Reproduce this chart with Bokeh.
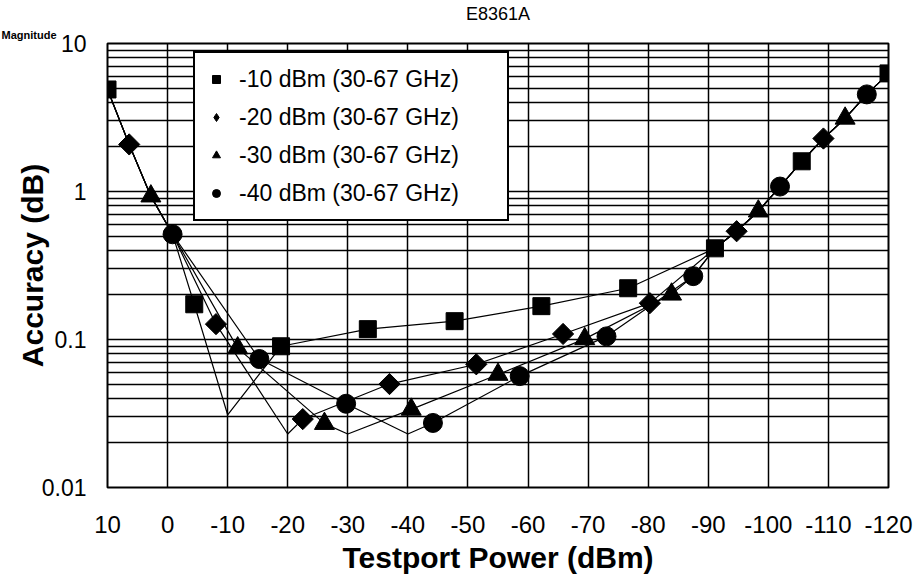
import math
from bokeh.plotting import figure
from bokeh.models import (Range1d, FixedTicker, NumeralTickFormatter, Legend,
                          LegendItem, Title)
from bokeh.embed import file_html
from bokeh.resources import INLINE

# ---------------- data ----------------
x_ticks = [10, 0, -10, -20, -30, -40, -50, -60, -70, -80, -90, -100, -110, -120]
x_tick_labels = [str(t) for t in x_ticks]
y_ticks = [0.01, 0.1, 1, 10]
y_tick_labels = ["0.01", "0.1", "1", "10"]

series_labels = ["-10 dBm (30-67 GHz)", "-20 dBm (30-67 GHz)",
                 "-30 dBm (30-67 GHz)", "-40 dBm (30-67 GHz)"]

# marker points
x_m10 = [10, -4.44, -18.89, -33.33, -47.78, -62.22, -76.67, -91.11, -105.56, -120]
y_m10 = [4.89, 0.173, 0.090, 0.1175, 0.133, 0.168, 0.222, 0.413, 1.60, 6.28]
x_m20 = [6.39, -8.06, -22.5, -36.94, -51.39, -65.83, -80.28, -94.72, -109.17]
y_m20 = [2.08, 0.127, 0.029, 0.050, 0.068, 0.109, 0.176, 0.539, 2.28]
x_m30 = [2.78, -11.67, -26.11, -40.56, -55.0, -69.44, -83.89, -98.33, -112.78]
y_m30 = [0.93, 0.0875, 0.027, 0.0337, 0.058, 0.101, 0.202, 0.736, 3.12]
x_m40 = [-0.83, -15.28, -29.72, -44.17, -58.61, -73.06, -87.5, -101.94, -116.39]
y_m40 = [0.514, 0.0738, 0.0368, 0.0273, 0.0566, 0.105, 0.268, 1.08, 4.53]

# minimum (dip) of each accuracy curve, at its reference power
dip_x = [-10, -20, -30, -40]
dip_y = [0.031, 0.023, 0.023, 0.023]
# where the curves merge at high and low power
head_end = -1.0
tail_start = [-91.0, -91.0, -87.0, -87.0]

marker_x = [x_m10, x_m20, x_m30, x_m40]
marker_y = [y_m10, y_m20, y_m30, y_m40]

# ---------------- figure ----------------
FONT = "Liberation Sans"
p = figure(width=914, height=584, output_backend="svg", toolbar_location=None,
           x_range=Range1d(10, -120), y_range=Range1d(0.01, 10),
           y_axis_type="log",
           min_border_left=107, min_border_right=26, min_border_top=42,
           min_border_bottom=97, background_fill_color="white",
           border_fill_color="white")

p.title.text = "E8361A"
p.title.align = "center"
p.title.text_font = FONT
p.title.text_font_size = "18px"
p.title.text_font_style = "normal"
p.title.text_color = "black"
p.title.standoff = 2

# heading at the top left
p.add_layout(Title(text="Magnitude", align="left", offset=-106, standoff=5,
                   text_font=FONT, text_font_size="11px",
                   text_font_style="bold", text_color="black"), "above")

p.outline_line_color = "black"
p.outline_line_width = 2
p.outline_line_alpha = 1

# grids
p.xgrid.ticker = FixedTicker(ticks=x_ticks)
p.xgrid.grid_line_color = "black"
p.xgrid.grid_line_width = 1.5
p.xgrid.grid_line_alpha = 1
y_minor = [m * 10 ** d for d in (-2, -1, 0) for m in range(2, 10)]
p.ygrid.ticker = FixedTicker(ticks=y_ticks, minor_ticks=y_minor)
p.ygrid.grid_line_color = "black"
p.ygrid.grid_line_width = 1.5
p.ygrid.grid_line_alpha = 1
p.ygrid.minor_grid_line_color = "black"
p.ygrid.minor_grid_line_width = 1.5

# axes
p.xaxis.ticker = FixedTicker(ticks=x_ticks)
p.xaxis.major_label_overrides = dict(zip(x_ticks, x_tick_labels))
p.yaxis.ticker = FixedTicker(ticks=y_ticks)
p.yaxis.formatter = NumeralTickFormatter(format="0.[00]")
p.yaxis.major_label_overrides = dict(zip(y_ticks, y_tick_labels))
for ax in (p.xaxis, p.yaxis):
    ax.axis_line_color = None
    ax.major_tick_line_color = None
    ax.minor_tick_line_color = None
    ax.major_tick_out = 0
    ax.major_tick_in = 0
    ax.minor_tick_out = 0
    ax.minor_tick_in = 0
    ax.major_label_text_font = FONT
    ax.major_label_text_color = "black"
    ax.axis_label_text_font = FONT
    ax.axis_label_text_font_style = "bold"
    ax.axis_label_text_color = "black"
p.xaxis.axis_label_text_font_size = "30px"
p.yaxis.axis_label_text_font_size = "30px"
p.xaxis.major_label_text_font_size = "24px"
p.yaxis.major_label_text_font_size = "23px"
p.xaxis.major_label_standoff = 28
p.yaxis.major_label_standoff = 21
p.xaxis.axis_label = "Testport Power (dBm)"
p.yaxis.axis_label = "Accuracy (dB)"
p.xaxis.axis_label_standoff = 5
p.yaxis.axis_label_standoff = -10

# ---------------- curves ----------------
all_x = [x for xs in marker_x for x in xs]
all_y = [y for ys in marker_y for y in ys]
head = sorted([(x, y) for x, y in zip(all_x, all_y) if x >= head_end], reverse=True)

for i in range(4):
    tail = sorted([(x, y) for x, y in zip(all_x, all_y) if x <= tail_start[i]], reverse=True)
    mid = [(x, y) for x, y in zip(marker_x[i], marker_y[i]) if tail_start[i] < x < head_end]
    mid.append((dip_x[i], dip_y[i]))
    pts = head + sorted(mid, reverse=True) + tail
    p.line([q[0] for q in pts], [q[1] for q in pts], line_color="black", line_width=1.2)

styles = [dict(marker="square", size=17, angle=0.0),
          dict(marker="square", size=15, angle=math.pi / 4),
          dict(marker="triangle", size=20, angle=0.0),
          dict(marker="circle", size=19, angle=0.0)]
for i in range(4):
    p.scatter(marker_x[i], marker_y[i], color="black", **styles[i])

# legend glyphs: small markers as in the original legend (hidden renderers)
leg_styles = [dict(marker="square", size=8),
              dict(marker="diamond", size=13),
              dict(marker="triangle", size=10),
              dict(marker="circle", size=10)]
items = []
for i in range(4):
    r = p.scatter(marker_x[i], marker_y[i], color="black", visible=False, **leg_styles[i])
    items.append(LegendItem(label=series_labels[i], renderers=[r]))

legend = Legend(items=items, location=(86, 266), margin=0, padding=11,
                spacing=8, glyph_width=20, glyph_height=30, label_height=30,
                label_width=257, label_standoff=13,
                label_text_font=FONT, label_text_font_size="23px",
                label_text_color="black", label_text_baseline="middle",
                background_fill_color="white", background_fill_alpha=1,
                border_line_color="black", border_line_width=2,
                border_line_alpha=1, inactive_fill_alpha=0)
p.add_layout(legend)

open("out.html", "w").write(file_html(p, INLINE))
